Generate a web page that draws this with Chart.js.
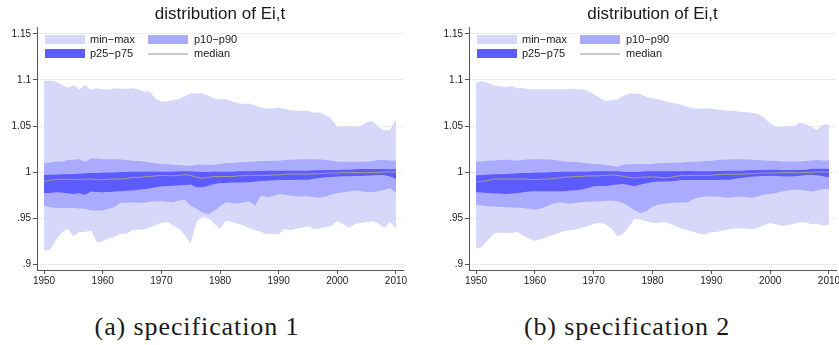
<!DOCTYPE html>
<html>
<head>
<meta charset="utf-8">
<title>distribution of Ei,t</title>
<script src="https://cdn.jsdelivr.net/npm/chart.js@4/dist/chart.umd.min.js"></script>
<style>
  body {
    margin: 0;
    width: 839px;
    height: 345px;
    background: #fff;
    position: relative;
    overflow: hidden;
  }
  canvas {
    position: absolute;
    top: 0;
  }
  #chartA { left: 0; }
  #chartB { left: 432px; }
  .caption {
    position: absolute;
    top: 312px;
    width: 300px;
    text-align: center;
    font-family: "Liberation Serif", "DejaVu Serif", serif;
    font-size: 26px;
    line-height: 30px;
    letter-spacing: 0.9px;
    color: #1a1a1a;
  }
  #capA { left: 47px; }
  #capB { left: 477px; }
</style>
</head>
<body>
<canvas id="chartA" width="415" height="290"></canvas>
<canvas id="chartB" width="407" height="290"></canvas>
<div class="caption" id="capA">(a) specification 1</div>
<div class="caption" id="capB">(b) specification 2</div>

<script>
// ---- data ----
const years = [
  1950, 1951, 1952, 1953, 1954, 1955, 1956, 1957, 1958, 1959,
  1960, 1961, 1962, 1963, 1964, 1965, 1966, 1967, 1968, 1969,
  1970, 1971, 1972, 1973, 1974, 1975, 1976, 1977, 1978, 1979,
  1980, 1981, 1982, 1983, 1984, 1985, 1986, 1987, 1988, 1989,
  1990, 1991, 1992, 1993, 1994, 1995, 1996, 1997, 1998, 1999,
  2000, 2001, 2002, 2003, 2004, 2005, 2006, 2007, 2008, 2009,
  2010,
];

const seriesNames = ["min\u2212max", "p10\u2212p90", "p25\u2212p75", "median"];
const chartTitle = "distribution of Ei,t";

const xTicks = [1950, 1960, 1970, 1980, 1990, 2000, 2010];
const yTicks = [0.9, 0.95, 1, 1.05, 1.1, 1.15];
const yTickLabels = [".9", ".95", "1", "1.05", "1.1", "1.15"];

// specification 1
const maxA = [
  1.0986, 1.0995, 1.098, 1.095, 1.0917, 1.0946, 1.090, 1.0946, 1.089, 1.091,
  1.090, 1.0896, 1.091, 1.0906, 1.0906, 1.091, 1.090, 1.0874, 1.0874, 1.080,
  1.0766, 1.0766, 1.0784, 1.079, 1.0827, 1.0856, 1.0856, 1.0856, 1.083, 1.080,
  1.0788, 1.079, 1.077, 1.075, 1.074, 1.0744, 1.0726, 1.070, 1.0687, 1.0694,
  1.070, 1.0687, 1.0672, 1.0665, 1.0665, 1.0665, 1.0644, 1.0647, 1.062, 1.0575,
  1.049, 1.0494, 1.050, 1.049, 1.0504, 1.054, 1.0555, 1.0488, 1.045, 1.046,
  1.0575,
];
const p90A = [
  1.0094, 1.0101, 1.0115, 1.0112, 1.013, 1.0133, 1.014, 1.0108, 1.0148, 1.0144,
  1.014, 1.014, 1.014, 1.0137, 1.013, 1.0122, 1.0119, 1.0115, 1.0104, 1.0094,
  1.0086, 1.0083, 1.0079, 1.0076, 1.0072, 1.0068, 1.0079, 1.0079, 1.0076, 1.0079,
  1.0086, 1.0094, 1.0097, 1.0104, 1.0108, 1.0112, 1.0115, 1.0119, 1.0119, 1.0122,
  1.0122, 1.013, 1.0133, 1.0137, 1.014, 1.014, 1.014, 1.0137, 1.013, 1.0122,
  1.0112, 1.0112, 1.0112, 1.0112, 1.0112, 1.0112, 1.0119, 1.013, 1.013, 1.0126,
  1.0122,
];
const p75A = [
  0.9968, 0.9971, 0.9971, 0.9975, 0.9975, 0.9978, 0.9982, 0.9986, 0.9989, 0.9989,
  0.9993, 0.9996, 0.9996, 1.0, 1.0, 1.0004, 1.0004, 1.0004, 1.0004, 1.0004,
  1.0004, 1.0004, 1.0004, 1.0007, 1.0007, 1.0007, 1.0004, 1.0, 1.0, 1.0004,
  1.0004, 1.0004, 1.0004, 1.0007, 1.0007, 1.0007, 1.0011, 1.0011, 1.0014, 1.0014,
  1.0014, 1.0014, 1.0014, 1.0014, 1.0014, 1.0014, 1.0018, 1.0018, 1.0022, 1.0022,
  1.0022, 1.0025, 1.0025, 1.0029, 1.0032, 1.0032, 1.0032, 1.0032, 1.0032, 1.0029,
  1.0029,
];
const medianA = [
  0.9899, 0.991, 0.9917, 0.9921, 0.9921, 0.9917, 0.9921, 0.9921, 0.9924, 0.9917,
  0.9917, 0.9921, 0.9924, 0.9924, 0.9928, 0.9939, 0.9942, 0.9946, 0.9953, 0.9957,
  0.9964, 0.996, 0.996, 0.9964, 0.9971, 0.9964, 0.9942, 0.9932, 0.9942, 0.995,
  0.995, 0.995, 0.995, 0.9957, 0.996, 0.9964, 0.9964, 0.9964, 0.9964, 0.9968,
  0.9968, 0.9975, 0.9978, 0.9978, 0.9978, 0.9978, 0.9978, 0.9982, 0.9986, 0.9989,
  0.9989, 0.9993, 0.9993, 0.9993, 0.9993, 0.9993, 0.9996, 0.9996, 1.0, 1.0,
  1.0,
];
const p25A = [
  0.9773, 0.9773, 0.978, 0.9777, 0.977, 0.9762, 0.977, 0.9752, 0.9788, 0.9784,
  0.978, 0.9784, 0.9788, 0.9791, 0.9795, 0.9798, 0.9806, 0.9813, 0.9824, 0.9834,
  0.9845, 0.9849, 0.9852, 0.9856, 0.986, 0.9863, 0.9834, 0.9834, 0.9852, 0.987,
  0.9881, 0.9881, 0.9885, 0.9885, 0.9888, 0.9888, 0.9896, 0.9903, 0.9906, 0.991,
  0.9914, 0.9914, 0.9914, 0.9917, 0.9917, 0.9917, 0.9928, 0.9935, 0.9942, 0.9946,
  0.995, 0.9953, 0.9953, 0.9957, 0.9957, 0.996, 0.9964, 0.9968, 0.9968, 0.995,
  0.9924,
];
const p10A = [
  0.9636, 0.9618, 0.9608, 0.9608, 0.9608, 0.9608, 0.9604, 0.96, 0.9582, 0.9582,
  0.9582, 0.96, 0.9618, 0.9665, 0.9662, 0.9672, 0.9665, 0.9665, 0.9676, 0.9683,
  0.9683, 0.9676, 0.9672, 0.969, 0.9698, 0.9636, 0.96, 0.9564, 0.9539, 0.9575,
  0.9629, 0.9672, 0.9662, 0.9654, 0.9669, 0.9683, 0.9636, 0.9744, 0.9726, 0.9737,
  0.9762, 0.9752, 0.9744, 0.9734, 0.9737, 0.9737, 0.9726, 0.9719, 0.9734, 0.9755,
  0.977, 0.978, 0.9788, 0.9798, 0.9791, 0.978, 0.9784, 0.9791, 0.9806, 0.9824,
  0.9773,
];
const minA = [
  0.915, 0.915, 0.9258, 0.9338, 0.9384, 0.9302, 0.9348, 0.9348, 0.9366, 0.9233,
  0.9248, 0.9276, 0.9294, 0.933, 0.933, 0.9366, 0.9374, 0.9374, 0.9395, 0.942,
  0.9449, 0.9456, 0.942, 0.9384, 0.9312, 0.9222, 0.9456, 0.951, 0.9503, 0.9438,
  0.9384, 0.9474, 0.9456, 0.9438, 0.942, 0.9392, 0.9366, 0.9348, 0.9323, 0.933,
  0.932, 0.9384, 0.9366, 0.9384, 0.9395, 0.941, 0.9384, 0.9384, 0.9402, 0.941,
  0.9467, 0.9431, 0.9395, 0.9431, 0.9446, 0.9456, 0.9467, 0.9438, 0.9395, 0.9456,
  0.9384,
];

// specification 2
const maxB = [
  1.097, 1.099, 1.097, 1.094, 1.0935, 1.0925, 1.0935, 1.091, 1.0914, 1.090,
  1.090, 1.090, 1.090, 1.090, 1.090, 1.090, 1.0904, 1.090, 1.090, 1.088,
  1.0845, 1.081, 1.0773, 1.078, 1.079, 1.0827, 1.0852, 1.0852, 1.0845, 1.0816,
  1.080, 1.079, 1.0773, 1.0755, 1.0744, 1.073, 1.071, 1.0694, 1.0687, 1.069,
  1.0687, 1.068, 1.0672, 1.0665, 1.0665, 1.0654, 1.065, 1.0644, 1.063, 1.0586,
  1.053, 1.049, 1.049, 1.050, 1.050, 1.0536, 1.0525, 1.049, 1.046, 1.0515,
  1.052,
];
const p90B = [
  1.0115, 1.0115, 1.0122, 1.0126, 1.013, 1.0133, 1.013, 1.0122, 1.0133, 1.0137,
  1.014, 1.014, 1.0137, 1.0133, 1.0126, 1.0115, 1.0112, 1.0108, 1.0101, 1.0094,
  1.0086, 1.0083, 1.0076, 1.0068, 1.0058, 1.0079, 1.0083, 1.0083, 1.0083, 1.0083,
  1.0086, 1.0094, 1.0097, 1.0101, 1.0101, 1.0104, 1.0108, 1.0112, 1.0115, 1.0119,
  1.0122, 1.013, 1.0133, 1.0137, 1.014, 1.014, 1.0137, 1.0133, 1.013, 1.0126,
  1.0122, 1.0119, 1.0115, 1.0115, 1.0115, 1.0115, 1.0119, 1.0126, 1.013, 1.0126,
  1.0122,
];
const p75B = [
  0.9964, 0.9968, 0.9971, 0.9975, 0.9975, 0.9978, 0.9982, 0.9986, 0.9989, 0.9989,
  0.9993, 0.9996, 0.9996, 1.0, 1.0, 1.0004, 1.0004, 1.0004, 1.0004, 1.0004,
  1.0007, 1.0007, 1.0007, 1.0007, 1.0007, 1.0004, 1.0, 1.0, 1.0004, 1.0007,
  1.0007, 1.0007, 1.0007, 1.0007, 1.0007, 1.0007, 1.0011, 1.0007, 1.0007, 1.0007,
  1.0007, 1.0011, 1.0011, 1.0014, 1.0014, 1.0014, 1.0018, 1.0018, 1.0022, 1.0022,
  1.0025, 1.0025, 1.0022, 1.0022, 1.0022, 1.0022, 1.0025, 1.0032, 1.0036, 1.0036,
  1.0032,
];
const medianB = [
  0.9892, 0.9899, 0.9906, 0.9924, 0.9924, 0.9924, 0.9924, 0.9924, 0.9924, 0.9921,
  0.9917, 0.9921, 0.9924, 0.9928, 0.9935, 0.9942, 0.9946, 0.995, 0.9953, 0.9957,
  0.9957, 0.996, 0.9964, 0.9968, 0.9964, 0.9953, 0.9942, 0.9935, 0.9942, 0.9946,
  0.9946, 0.9942, 0.9935, 0.9942, 0.9953, 0.9964, 0.9964, 0.9964, 0.9964, 0.9964,
  0.9964, 0.9971, 0.9975, 0.9975, 0.9975, 0.9975, 0.9978, 0.9982, 0.9986, 0.9989,
  0.9989, 0.9989, 0.9993, 0.9993, 0.9993, 0.9993, 0.9996, 0.9996, 1.0, 1.0,
  1.0,
];
const p25B = [
  0.978, 0.9777, 0.9773, 0.977, 0.9766, 0.9762, 0.9766, 0.977, 0.978, 0.9788,
  0.9791, 0.9791, 0.9791, 0.9791, 0.9791, 0.9791, 0.9798, 0.9802, 0.9809, 0.9827,
  0.9845, 0.9849, 0.9849, 0.9856, 0.9863, 0.987, 0.986, 0.9845, 0.9863, 0.9878,
  0.9892, 0.9896, 0.9896, 0.9899, 0.9906, 0.9914, 0.9914, 0.9914, 0.9914, 0.9914,
  0.9914, 0.9914, 0.9917, 0.9917, 0.9928, 0.9935, 0.9942, 0.995, 0.9953, 0.9957,
  0.996, 0.9957, 0.9953, 0.995, 0.9953, 0.996, 0.9968, 0.9971, 0.9964, 0.9953,
  0.9942,
];
const p10B = [
  0.9644, 0.9636, 0.9629, 0.9626, 0.9622, 0.9618, 0.9615, 0.9611, 0.9608, 0.96,
  0.959, 0.9604, 0.9626, 0.9654, 0.9672, 0.9665, 0.9654, 0.9665, 0.9672, 0.9676,
  0.968, 0.9683, 0.9687, 0.969, 0.9683, 0.9662, 0.9626, 0.9582, 0.9554, 0.9575,
  0.9626, 0.9644, 0.9654, 0.9662, 0.9665, 0.9669, 0.9672, 0.9708, 0.9726, 0.9734,
  0.9734, 0.9734, 0.9726, 0.9719, 0.9726, 0.9734, 0.9726, 0.9719, 0.9737, 0.9755,
  0.9762, 0.9773, 0.9788, 0.9798, 0.9806, 0.9806, 0.9798, 0.9788, 0.9798, 0.9816,
  0.9816,
];
const minB = [
  0.9168, 0.9186, 0.9258, 0.933, 0.9341, 0.9338, 0.9338, 0.9348, 0.9312, 0.9276,
  0.9251, 0.9269, 0.9294, 0.9312, 0.9338, 0.9359, 0.9366, 0.9374, 0.9395, 0.941,
  0.9438, 0.9446, 0.9431, 0.9384, 0.9302, 0.933, 0.9402, 0.95, 0.9482, 0.9464,
  0.9446, 0.9446, 0.9456, 0.9438, 0.941, 0.9384, 0.9366, 0.9348, 0.933, 0.9323,
  0.9348, 0.9348, 0.9366, 0.9374, 0.9384, 0.9388, 0.9384, 0.9377, 0.9395, 0.942,
  0.9446, 0.9431, 0.9413, 0.942, 0.9438, 0.9453, 0.9453, 0.9431, 0.9438, 0.9417,
  0.9428,
];

// ---- look ----
const colLight = "rgb(215, 215, 250)";
const colMid = "rgb(170, 170, 254)";
const colDark = "rgb(92, 92, 254)";
const colMedian = "rgb(168, 160, 138)";
const colLegendLine = "rgb(150, 150, 150)";
const axisColor = "#555";
const gridColor = "#ebebeb";
const sans = '"Liberation Sans", Arial, Helvetica, sans-serif';

const pts = (vals) => years.map((yr, i) => ({ x: yr, y: vals[i] }));

function band(vals, fillTo, color, order) {
  return {
    data: pts(vals),
    borderColor: "rgba(0,0,0,0)",
    borderWidth: 0,
    backgroundColor: color,
    pointRadius: 0,
    tension: 0,
    fill: fillTo,
    order,
  };
}

// title + in-plot legend, Stata style
const panelDecor = {
  id: "panelDecor",
  afterDraw(chart) {
    const { ctx, chartArea } = chart;
    const left = chartArea.left;
    ctx.save();
    ctx.fillStyle = "#1a1a1a";
    ctx.font = "17px " + sans;
    ctx.textAlign = "center";
    ctx.textBaseline = "alphabetic";
    ctx.fillText(chartTitle, (chartArea.left + chartArea.right) / 2, 19);

    const rows = [39.5, 53.5];
    const items = [
      { name: seriesNames[0], color: colLight, box: true, col: 0, row: 0 },
      { name: seriesNames[1], color: colMid, box: true, col: 1, row: 0 },
      { name: seriesNames[2], color: colDark, box: true, col: 0, row: 1 },
      { name: seriesNames[3], color: colLegendLine, box: false, col: 1, row: 1 },
    ];
    const keyX = [left + 8, left + 111];
    const textX = [left + 53, left + 157];
    ctx.font = "11px " + sans;
    ctx.textAlign = "left";
    ctx.textBaseline = "middle";
    items.forEach((it) => {
      const y = rows[it.row];
      if (it.box) {
        ctx.fillStyle = it.color;
        ctx.fillRect(keyX[it.col], y - 4.5, 40, 9);
      } else {
        ctx.strokeStyle = it.color;
        ctx.lineWidth = 1;
        ctx.beginPath();
        ctx.moveTo(keyX[it.col], y + 0.5);
        ctx.lineTo(keyX[it.col] + 40, y + 0.5);
        ctx.stroke();
      }
      ctx.fillStyle = "#1a1a1a";
      ctx.fillText(it.name, textX[it.col], y);
    });
    ctx.restore();
  },
};

function makeChart(id, s, padRight) {
  return new Chart(document.getElementById(id), {
    type: "line",
    data: {
      datasets: [
        { // 0 median
          data: pts(s.median),
          borderColor: colMedian,
          borderWidth: 1,
          pointRadius: 0,
          fill: false,
          order: 0,
        },
        band(s.p25, false, colDark, 1), // 1
        band(s.p75, 1, colDark, 1), // 2
        band(s.p10, false, colMid, 2), // 3
        band(s.p90, 3, colMid, 2), // 4
        band(s.min, false, colLight, 3), // 5
        band(s.max, 5, colLight, 3), // 6
      ],
    },
    options: {
      responsive: false,
      animation: false,
      devicePixelRatio: 1,
      layout: { padding: { top: 27, right: padRight, left: 0, bottom: 0 } },
      plugins: {
        legend: { display: false },
        tooltip: { enabled: false },
        filler: { propagate: false },
      },
      scales: {
        x: {
          type: "linear",
          min: 1948.8,
          max: 2011.2,
          afterBuildTicks: (axis) => {
            axis.ticks = xTicks.map((v) => ({ value: v }));
          },
          afterFit: (axis) => {
            axis.height = 20;
            axis.paddingLeft = 0;
            axis.paddingRight = 0;
          },
          ticks: {
            autoSkip: false,
            maxRotation: 0,
            padding: 1,
            color: "#1a1a1a",
            font: { family: sans, size: 10 },
            callback: (v) => String(v),
          },
          grid: {
            drawOnChartArea: false,
            drawTicks: true,
            tickLength: 4,
            tickColor: axisColor,
          },
          border: { color: axisColor, width: 1 },
        },
        y: {
          type: "linear",
          min: 0.8935,
          max: 1.1576,
          afterBuildTicks: (axis) => {
            axis.ticks = yTicks.map((v) => ({ value: v }));
          },
          afterFit: (axis) => {
            axis.width = 37;
            axis.paddingTop = 0;
            axis.paddingBottom = 0;
          },
          ticks: {
            autoSkip: false,
            padding: 2,
            color: "#1a1a1a",
            font: { family: sans, size: 10 },
            callback: (v, i) => yTickLabels[i],
          },
          grid: {
            color: gridColor,
            lineWidth: 1,
            drawTicks: true,
            tickLength: 4,
            tickColor: axisColor,
          },
          border: { color: axisColor, width: 1 },
        },
      },
    },
    plugins: [panelDecor],
  });
}

makeChart("chartA", { min: minA, p10: p10A, p25: p25A, median: medianA, p75: p75A, p90: p90A, max: maxA }, 12);
makeChart("chartB", { min: minB, p10: p10B, p25: p25B, median: medianB, p75: p75B, p90: p90B, max: maxB }, 3);
</script>
</body>
</html>
